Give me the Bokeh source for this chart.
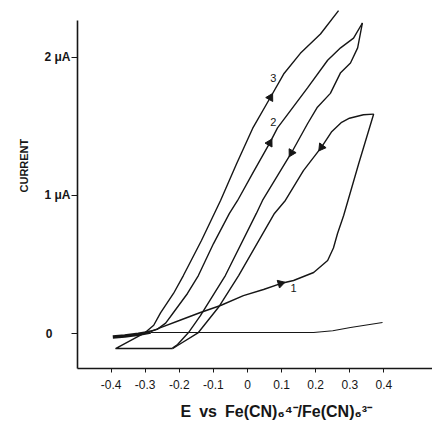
import math
from bokeh.plotting import figure
from bokeh.models import Range1d, FixedTicker, Title
from bokeh.core.properties import value
from bokeh.embed import file_html
from bokeh.resources import INLINE

# ---- data (E in V vs Fe(CN)6 4-/3-, I in microamps) ----
start_E = [-0.395, -0.36, -0.32, -0.284]
start_I = [-0.025, -0.018, -0.005, 0.010]

base_E = [-0.284, -0.10, 0.10, 0.194, 0.25, 0.302, 0.396]
base_I = [0.007, 0.007, 0.007, 0.007, 0.020, 0.043, 0.080]

c1_fwd_E = [-0.284, -0.255, -0.20, -0.138, -0.079, -0.012, 0.047, 0.097, 0.135, 0.194, 0.235, 0.252, 0.264, 0.282, 0.326, 0.370]
c1_fwd_I = [0.014, 0.043, 0.094, 0.152, 0.203, 0.275, 0.319, 0.362, 0.384, 0.442, 0.529, 0.620, 0.725, 0.855, 1.230, 1.590]

c1_rev_E = [0.370, 0.340, 0.299, 0.276, 0.246, 0.217, 0.164, 0.111, 0.079, -0.026, -0.085, -0.144, -0.205, -0.220]
c1_rev_I = [1.590, 1.585, 1.560, 1.530, 1.460, 1.350, 1.180, 0.964, 0.870, 0.420, 0.190, 0.007, -0.087, -0.109]

bottom_E = [-0.220, -0.387, -0.300]
bottom_I = [-0.109, -0.109, 0.007]

c2_fwd_E = [-0.300, -0.265, -0.240, -0.217, -0.176, -0.144, -0.100, -0.053, -0.029, 0.015, 0.065, 0.088, 0.176, 0.235, 0.273, 0.311, 0.337]
c2_fwd_I = [0.007, 0.030, 0.075, 0.152, 0.290, 0.420, 0.650, 0.870, 0.964, 1.160, 1.380, 1.490, 1.780, 1.980, 2.070, 2.140, 2.250]

c2_rev_E = [0.337, 0.323, 0.302, 0.273, 0.243, 0.205, 0.176, 0.129, 0.044, 0.026, -0.065, -0.138, -0.173, -0.205, -0.220]
c2_rev_I = [2.250, 2.070, 1.960, 1.890, 1.740, 1.640, 1.520, 1.310, 0.964, 0.870, 0.420, 0.130, 0.007, -0.080, -0.105]

c3_fwd_E = [-0.300, -0.275, -0.255, -0.217, -0.188, -0.135, -0.079, -0.032, 0.015, 0.067, 0.106, 0.155, 0.214, 0.267]
c3_fwd_I = [0.007, 0.060, 0.150, 0.290, 0.420, 0.674, 0.964, 1.230, 1.486, 1.710, 1.880, 2.030, 2.170, 2.340]

arrow_E = [0.067, 0.065, 0.129, 0.217, 0.097]
arrow_I = [1.710, 1.380, 1.310, 1.350, 0.362]
arrow_angle = [-0.51, -0.51, 2.63, 2.51, -1.28]

curve_label_E = [0.076, 0.076, 0.135]
curve_label_I = [1.855, 1.530, 0.333]
curve_labels = ["3", "2", "1"]

x_ticks = [-0.4, -0.3, -0.2, -0.1, 0.0, 0.1, 0.2, 0.3, 0.4]
x_tick_labels = ["-0.4", "-0.3", "-0.2", "-0.1", "0", "0.1", "0.2", "0.3", "0.4"]
y_ticks = [0, 1, 2]
y_tick_labels = ["0\u2003\u2002", "1 \u03bcA", "2 \u03bcA"]

x_title = "E\u2002vs\u2002Fe(CN)\u2086\u2074\u207b/Fe(CN)\u2086\u00b3\u207b"
y_title = "CURRENT"

FONT = "Liberation Sans"
INK = "#161616"

p = figure(width=432, height=430, output_backend="svg", toolbar_location=None,
           x_range=Range1d(-0.4985, 0.5425), y_range=Range1d(-0.2536, 2.355),
           min_border_left=77, min_border_right=0, min_border_top=8, min_border_bottom=62)
p.outline_line_color = None
p.xgrid.visible = False
p.ygrid.visible = False
p.background_fill_color = "white"
p.border_fill_color = "white"

# curves
p.line(start_E, start_I, line_color=INK, line_width=3.5)
p.line(base_E, base_I, line_color=INK, line_width=1.1)
for ex, iy in [(c1_fwd_E, c1_fwd_I), (c1_rev_E, c1_rev_I), (bottom_E, bottom_I),
               (c2_fwd_E, c2_fwd_I), (c2_rev_E, c2_rev_I), (c3_fwd_E, c3_fwd_I)]:
    p.line(ex, iy, line_color=INK, line_width=1.4)

p.scatter(arrow_E, arrow_I, marker="triangle", size=8, angle=arrow_angle,
          fill_color=INK, line_color=INK)
p.text(curve_label_E, curve_label_I, text=curve_labels, text_font=value(FONT),
       text_font_size="11px", text_align="center", text_baseline="middle", text_color=INK)

# axes
xa = p.xaxis[0]
xa.ticker = FixedTicker(ticks=x_ticks)
xa.major_label_overrides = {t: s for t, s in zip(x_ticks, x_tick_labels)}
xa.minor_tick_line_color = None
xa.major_tick_in = 0
xa.major_tick_out = 4
xa.axis_line_width = 1.6
xa.axis_line_color = INK
xa.major_tick_line_color = INK
xa.major_label_standoff = 7
xa.major_label_text_font = FONT
xa.major_label_text_font_size = "12px"
xa.major_label_text_color = INK

ya = p.yaxis[0]
ya.bounds = (-0.2536, 2.268)
ya.ticker = FixedTicker(ticks=y_ticks)
ya.major_label_overrides = {t: s for t, s in zip(y_ticks, y_tick_labels)}
ya.minor_tick_line_color = None
ya.major_tick_in = 0
ya.major_tick_out = 6
ya.axis_line_width = 1.6
ya.axis_line_color = INK
ya.major_tick_line_color = INK
ya.major_label_standoff = 1
ya.major_label_text_font = FONT
ya.major_label_text_font_size = "12px"
ya.major_label_text_font_style = "bold"
ya.major_label_text_color = INK

# axis titles as side-panel titles
p.add_layout(Title(text=y_title, align="left", offset=176, standoff=24,
                   text_font=FONT, text_font_size="11px", text_font_style="bold",
                   text_color=INK), "left")
p.add_layout(Title(text=x_title, align="left", offset=103, standoff=18,
                   text_font=FONT, text_font_size="16px", text_font_style="bold",
                   text_color=INK), "below")

open("out.html", "w").write(file_html(p, INLINE))
